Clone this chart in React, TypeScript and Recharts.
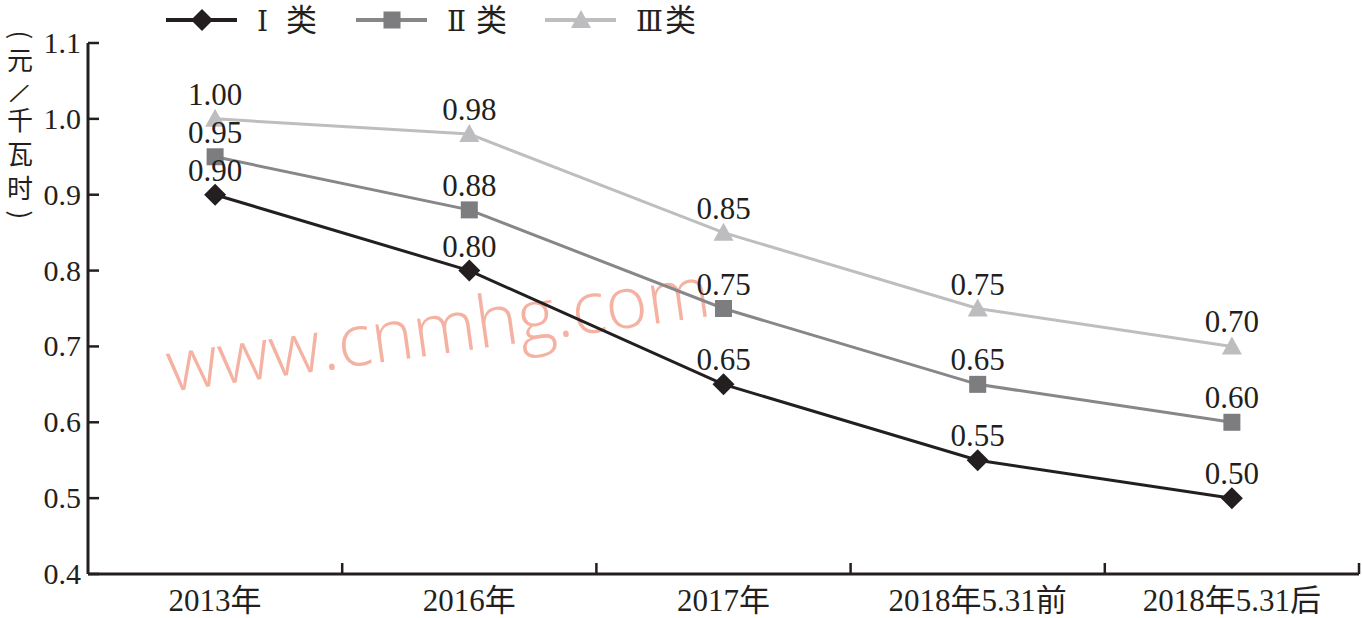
import React from 'react';
import { LineChart, Line, XAxis, YAxis, LabelList } from 'recharts';

const categories = ['2013年', '2016年', '2017年', '2018年5.31前', '2018年5.31后'];
const seriesI = [0.9, 0.8, 0.65, 0.55, 0.5];
const seriesII = [0.95, 0.88, 0.75, 0.65, 0.6];
const seriesIII = [1.0, 0.98, 0.85, 0.75, 0.7];
const yTicks = [0.4, 0.5, 0.6, 0.7, 0.8, 0.9, 1.0, 1.1];
const seriesNumerals = ['Ⅰ', 'Ⅱ', 'Ⅲ'];
const seriesSuffix = '类';
const seriesNames = seriesNumerals.map((n) => n + seriesSuffix);
const seriesKeys = ['s1', 's2', 's3'];
const lineColors = ['#231f20', '#87878a', '#bebec0'];
const markerColors = ['#231f20', '#7d7d80', '#bdbdbf'];
const yTitleCJK = ['元', '千', '瓦', '时'];

const data = categories.map((c, i) => ({
  pos: i + 0.5,
  name: c,
  s1: seriesI[i],
  s2: seriesII[i],
  s3: seriesIII[i],
}));
const xTicks = [
  ...categories.map((_, i) => i + 0.5),
  ...categories.map((_, i) => i + 1),
].sort((a, b) => a - b);

const INK = '#231f20';
const SERIF = "'Liberation Serif', 'DejaVu Serif', 'Noto Sans CJK SC', serif";
const CJK = "'Noto Sans CJK SC', sans-serif";

function Marker({ kind, cx, cy, color }: { kind: number; cx: number; cy: number; color: string }) {
  if (kind === 0) {
    const r = 11;
    return <path d={`M${cx},${cy - r}L${cx + r},${cy}L${cx},${cy + r}L${cx - r},${cy}Z`} fill={color} />;
  }
  if (kind === 1) {
    const h = 8.5;
    return <rect x={cx - h} y={cy - h} width={h * 2} height={h * 2} fill={color} />;
  }
  const w = 10;
  return <path d={`M${cx},${cy - 10}L${cx + w},${cy + 8}L${cx - w},${cy + 8}Z`} fill={color} />;
}

const makeDot = (kind: number) => (props: any) => {
  const { cx, cy, index } = props;
  if (cx == null || cy == null) return <g key={`d${kind}-${index}`} />;
  return <Marker key={`d${kind}-${index}`} kind={kind} cx={cx} cy={cy} color={markerColors[kind]} />;
};

const XTick = (props: any) => {
  const { x, y, payload } = props;
  const v = payload.value as number;
  if (Number.isInteger(v)) {
    return <line x1={x} x2={x} y1={y} y2={y - 11} stroke={INK} strokeWidth={2.5} />;
  }
  return (
    <text x={x} y={y + 37} textAnchor="middle" fontSize={31} fill={INK} fontFamily={SERIF}>
      {categories[Math.floor(v)]}
    </text>
  );
};

const YTick = (props: any) => {
  const { x, y, payload } = props;
  return (
    <g>
      <line x1={x} x2={x + 11} y1={y} y2={y} stroke={INK} strokeWidth={2.5} />
      <text x={x - 7} y={y + 10} textAnchor="end" fontSize={30} fill={INK} fontFamily={SERIF}>
        {(payload.value as number).toFixed(1)}
      </text>
    </g>
  );
};

const legendStarts = [166, 356, 545];
const cjkCenters = [61, 121, 155, 189];

export default function App() {
  return (
    <div style={{ position: 'absolute', left: 0, top: 0, width: 1362, height: 618, background: '#fff' }}>
      <svg width={1362} height={618} style={{ position: 'absolute', left: 0, top: 0 }}>
        <text
          x={170}
          y={392}
          transform="rotate(-8 170 392)"
          fontSize={72}
          fontWeight={300}
          fill="#f5b2a2"
          fontFamily="'Open Sans', 'Noto Sans', sans-serif"
          textLength={548}
          lengthAdjust="spacingAndGlyphs"
        >
          www.cnmhg.com
        </text>
        {/* y-axis title, vertical */}
        <text x={20} y={35} dy={9} textAnchor="middle" fontSize={26} fill={INK} fontFamily={CJK} transform="rotate(90 20 35)">
          (
        </text>
        <text fontSize={26} fill={INK} fontFamily={CJK} textAnchor="middle">
          {yTitleCJK.map((ch, i) => (
            <tspan key={i} x={20} y={cjkCenters[i] + 9}>
              {ch}
            </tspan>
          ))}
        </text>
        <text x={20} y={92} dy={9} textAnchor="middle" fontSize={24} fill={INK} fontFamily={CJK} transform="rotate(30 20 92)">
          /
        </text>
        <text x={20} y={215} dy={9} textAnchor="middle" fontSize={26} fill={INK} fontFamily={CJK} transform="rotate(90 20 215)">
          )
        </text>
        {seriesNames.map((n, i) => {
          const x0 = legendStarts[i];
          return (
            <g key={n}>
              <line x1={x0} x2={x0 + 71} y1={20} y2={20} stroke={lineColors[i]} strokeWidth={4} />
              <Marker kind={i} cx={x0 + 36} cy={20} color={markerColors[i]} />
              <text y={31} fill={INK} fontFamily={SERIF}>
                <tspan x={x0 + 91} fontSize={28}>{seriesNumerals[i]}</tspan>
                <tspan x={x0 + 120} fontSize={31}>{seriesSuffix}</tspan>
              </text>
            </g>
          );
        })}
      </svg>
      <LineChart
        width={1362}
        height={618}
        data={data}
        margin={{ top: 43, right: 3, bottom: 0, left: 0 }}
        style={{ position: 'relative' }}
      >
        <XAxis
          dataKey="pos"
          type="number"
          domain={[0, 5]}
          ticks={xTicks}
          interval={0}
          tickSize={0}
          tickMargin={0}
          tickLine={false}
          tick={<XTick />}
          height={44}
          axisLine={{ stroke: INK, strokeWidth: 3 }}
          allowDataOverflow
        />
        <YAxis
          type="number"
          domain={[0.4, 1.1]}
          ticks={yTicks}
          interval={0}
          tickSize={0}
          tickMargin={0}
          tickLine={false}
          tick={<YTick />}
          width={88}
          axisLine={{ stroke: INK, strokeWidth: 3 }}
          allowDataOverflow
        />
        {seriesKeys.map((k, i) => (
          <Line
            key={k}
            dataKey={k}
            name={seriesNames[i]}
            type="linear"
            stroke={lineColors[i]}
            strokeWidth={3}
            dot={makeDot(i)}
            activeDot={false}
            isAnimationActive={false}
          >
            <LabelList
              dataKey={k}
              position="top"
              offset={14}
              formatter={(v: any) => Number(v).toFixed(2)}
              style={{ fontSize: 31, fill: INK, fontFamily: SERIF }}
            />
          </Line>
        ))}
      </LineChart>
    </div>
  );
}
